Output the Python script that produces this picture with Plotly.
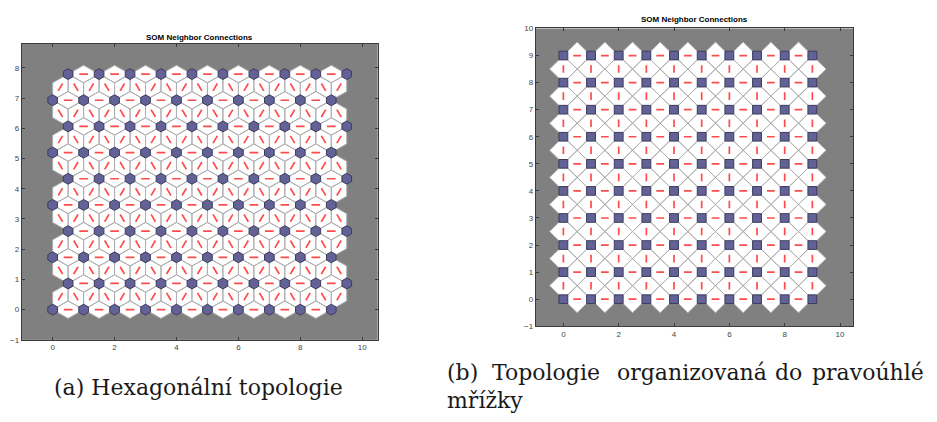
import numpy as np
import plotly.graph_objects as go

# ---------------- data ----------------
hex_dims = [10, 10]          # columns, rows of the hexagonal SOM
grid_dims = [10, 10]         # columns, rows of the rectangular-grid SOM
hex_xticks = [0, 2, 4, 6, 8, 10]
hex_yticks = [-1, 0, 1, 2, 3, 4, 5, 6, 7, 8]
grid_xticks = [0, 2, 4, 6, 8, 10]
grid_yticks = [-1, 0, 1, 2, 3, 4, 5, 6, 7, 8, 9, 10]
plot_title = "SOM Neighbor Connections"
caption_a = "(a) Hexagonální topologie"
caption_b_words = ["(b)", "Topologie", "organizovaná", "do", "pravoúhlé"]
caption_b_line2 = "mřížky"

W, H = 937, 422
GRAY_BG = "#808080"
NEURON_FILL = "rgb(98,98,150)"
NEURON_EDGE = "rgb(60,60,95)"
EDGE_GRAY = "rgb(175,175,175)"
RED = "rgb(255,75,75)"


def hex_positions(cols, rows):
    pts = []
    for j in range(rows):
        for i in range(cols):
            pts.append((i + 0.5 * (j % 2), j * np.sqrt(3) / 2))
    return np.array(pts)


def grid_positions(cols, rows):
    pts = []
    for j in range(rows):
        for i in range(cols):
            pts.append((float(i), float(j)))
    return np.array(pts)


def neighbor_pairs(pos):
    pairs = []
    n = len(pos)
    for a in range(n):
        for b in range(a + 1, n):
            if np.hypot(*(pos[b] - pos[a])) < 1.01:
                pairs.append((a, b))
    return pairs


def build_traces(pos, half_width, neuron_shape, xa, ya):
    pairs = neighbor_pairs(pos)
    rx, ry, lx, ly = [], [], [], []
    for a, b in pairs:
        pa, pb = pos[a], pos[b]
        d = pb - pa
        nrm = np.array([-d[1], d[0]])
        m = (pa + pb) / 2
        c1 = m + nrm * half_width
        c2 = m - nrm * half_width
        for p in (pa, c1, pb, c2, pa):
            rx.append(p[0]); ry.append(p[1])
        rx.append(None); ry.append(None)
        s, e = pa + 0.36 * d, pa + 0.64 * d
        lx += [s[0], e[0], None]
        ly += [s[1], e[1], None]
    nx, ny = [], []
    for p in pos:
        for v in neuron_shape:
            nx.append(p[0] + v[0]); ny.append(p[1] + v[1])
        nx.append(p[0] + neuron_shape[0][0]); ny.append(p[1] + neuron_shape[0][1])
        nx.append(None); ny.append(None)
    return [
        go.Scatter(x=rx, y=ry, mode="lines", fill="toself", fillcolor="white",
                   line=dict(color=EDGE_GRAY, width=1), hoverinfo="skip",
                   xaxis=xa, yaxis=ya, showlegend=False),
        go.Scatter(x=lx, y=ly, mode="lines", line=dict(color=RED, width=1.7),
                   hoverinfo="skip", xaxis=xa, yaxis=ya, showlegend=False),
        go.Scatter(x=nx, y=ny, mode="lines", fill="toself", fillcolor=NEURON_FILL,
                   line=dict(color=NEURON_EDGE, width=1), hoverinfo="skip",
                   xaxis=xa, yaxis=ya, showlegend=False),
    ]


r_hex = 0.18
hex_shape = [(r_hex * np.cos(np.radians(90 + 60 * k)), r_hex * np.sin(np.radians(90 + 60 * k)))
             for k in range(6)]
sq = 0.16
sq_shape = [(-sq, -sq), (sq, -sq), (sq, sq), (-sq, sq)]

hpos = hex_positions(*hex_dims)
gpos = grid_positions(*grid_dims)

fig = go.Figure()
for t in build_traces(hpos, np.sqrt(3) / 6, hex_shape, "x", "y"):
    fig.add_trace(t)
for t in build_traces(gpos, 0.5, sq_shape, "x2", "y2"):
    fig.add_trace(t)


def px_x(p):
    return p / W


def px_y(p):
    return 1 - p / H


axis_common = dict(showgrid=False, zeroline=False, showline=True, mirror="allticks",
                   linecolor="#3a3a3a", linewidth=1, ticks="inside", ticklen=3,
                   tickcolor="#3a3a3a", tickfont=dict(family="Liberation Sans", size=8, color="#444"),
                   fixedrange=True)

hx_max = hpos[:, 0].max() + 1
hy_max = hpos[:, 1].max() + 1

fig.update_layout(
    width=W, height=H, margin=dict(l=0, r=0, t=0, b=0),
    paper_bgcolor="white", plot_bgcolor=GRAY_BG,
    xaxis=dict(domain=[px_x(21.7), px_x(377.7)], range=[-1, hx_max],
               tickvals=hex_xticks, anchor="y", **axis_common),
    yaxis=dict(domain=[px_y(343.2), px_y(40.7)], range=[-1, hy_max],
               tickvals=hex_yticks, anchor="x", **axis_common),
    xaxis2=dict(domain=[px_x(535.7), px_x(853.3)], range=[-1, 10.48],
                tickvals=grid_xticks, anchor="y2", **axis_common),
    yaxis2=dict(domain=[px_y(329.3), px_y(25)], range=[-1, 10],
                tickvals=grid_yticks, anchor="x2", **axis_common),
)

ann = []
ann.append(dict(text="<b>" + plot_title + "</b>", x=px_x(199.7), y=px_y(34.5), xref="paper", yref="paper",
                showarrow=False, xanchor="center", yanchor="middle",
                font=dict(family="Liberation Sans", size=8, color="black")))
ann.append(dict(text="<b>" + plot_title + "</b>", x=px_x(694.5), y=px_y(16), xref="paper", yref="paper",
                showarrow=False, xanchor="center", yanchor="middle",
                font=dict(family="Liberation Sans", size=8, color="black")))
serif = dict(family="DejaVu Serif", size=22, color="#1a1a1a")
ann.append(dict(text=caption_a, x=px_x(51.7), y=px_y(392), xref="paper", yref="paper",
                showarrow=False, xanchor="left", yanchor="middle", font=serif))
word_x = [445, 490, 615, 773, 810]
for wtxt, wx in zip(caption_b_words, word_x):
    ann.append(dict(text=wtxt, x=px_x(wx), y=px_y(377), xref="paper", yref="paper",
                    showarrow=False, xanchor="left", yanchor="middle", font=serif))
ann.append(dict(text=caption_b_line2, x=px_x(445), y=px_y(405), xref="paper", yref="paper",
                showarrow=False, xanchor="left", yanchor="middle", font=serif))
fig.update_layout(annotations=ann)

fig.write_html("out.html")
